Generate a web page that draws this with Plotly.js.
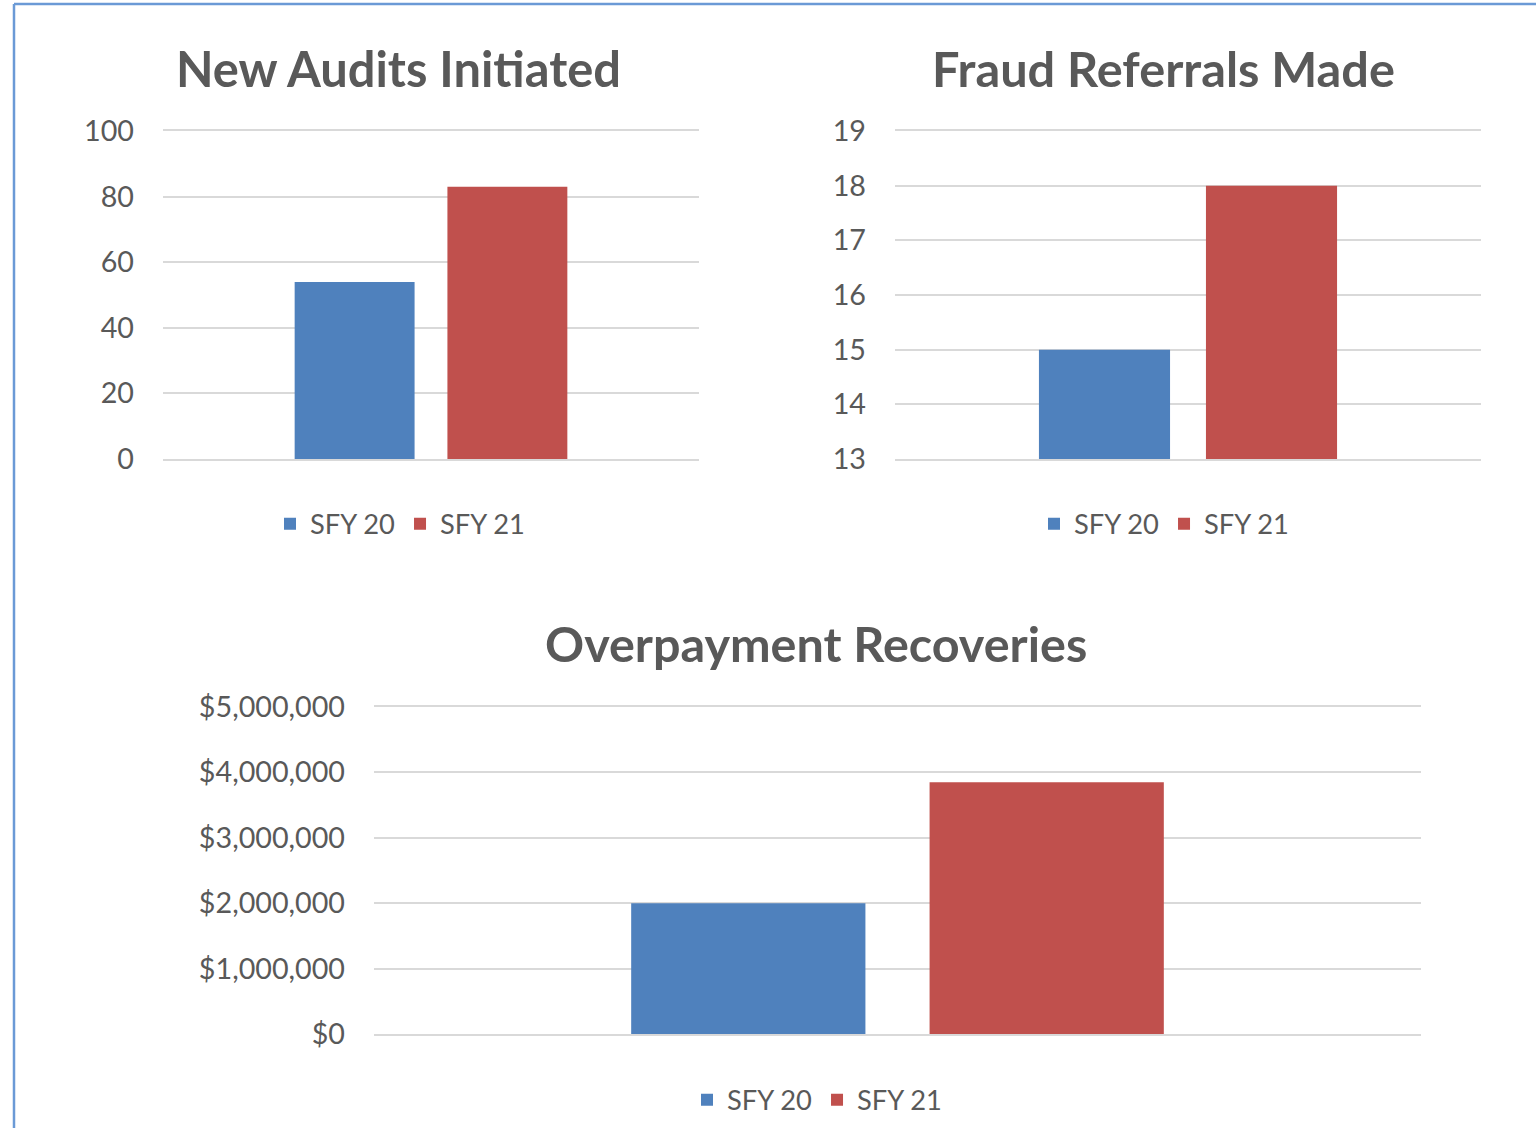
<!DOCTYPE html>
<html>
<head>
<meta charset="utf-8">
<script src="https://cdn.plot.ly/plotly-3.0.1.min.js"></script>
<style>
html,body{margin:0;padding:0;background:#fff;}
#chart{width:1536px;height:1128px;}
</style>
</head>
<body>
<div id="chart"></div>
<script>
// ---- data ----
const category = ['FY'];
const seriesNames = ['SFY 20', 'SFY 21'];
const seriesColors = ['#4F81BD', '#C0504D'];
const newAudits = [54, 83];
const fraudReferrals = [15, 18];
const overpaymentRecoveries = [2000000, 3850000];
const chartTitles = ['New Audits Initiated', 'Fraud Referrals Made', 'Overpayment Recoveries'];

const textColor = '#595959';
const fontFamily = 'Lato, Carlito, Calibri, sans-serif';
const gridColor = '#D9D9D9';

function barTraces(values, ax, legendId) {
  return values.map((v, i) => ({
    type: 'bar',
    x: category,
    y: [v],
    name: seriesNames[i],
    marker: {color: seriesColors[i]},
    xaxis: 'x' + ax,
    yaxis: 'y' + ax,
    legend: legendId,
    hoverinfo: 'skip'
  }));
}

const data = [].concat(
  barTraces(newAudits, '', 'legend'),
  barTraces(fraudReferrals, '2', 'legend2'),
  barTraces(overpaymentRecoveries, '3', 'legend3')
);

function xAxis(domain, anchor) {
  return {domain: domain, anchor: anchor, showticklabels: false, showgrid: false, zeroline: false,
    showline: true, mirror: true, linecolor: gridColor, linewidth: 2, layer: 'below traces',
    ticks: '', fixedrange: true};
}
function yAxis(domain, anchor, range, dtick, extra) {
  return Object.assign({
    domain: domain, anchor: anchor, range: range, dtick: dtick, tick0: range[0],
    showgrid: true, gridcolor: gridColor, gridwidth: 2,
    zeroline: false, showline: false, ticks: '',
    ticklabelstandoff: 28,
    tickfont: {family: fontFamily, size: 28.7, color: textColor},
    fixedrange: true
  }, extra || {});
}
function legend(xc, yc) {
  return {
    orientation: 'h', x: xc, y: yc, xanchor: 'center', yanchor: 'middle',
    font: {family: fontFamily, size: 27.3, color: textColor},
    bgcolor: 'rgba(0,0,0,0)', traceorder: 'normal'
  };
}
function titleAnn(text, xc, yc, size) {
  return {
    text: text, xref: 'paper', yref: 'paper', x: xc, y: yc,
    xanchor: 'center', yanchor: 'middle', showarrow: false,
    font: {family: fontFamily, size: size, color: textColor, weight: 'bold'}
  };
}

const W = 1536, H = 1128;
const px = v => v / W;
const py = v => 1 - v / H;

const layout = {
  width: W, height: H,
  margin: {l: 0, r: 0, t: 0, b: 0},
  paper_bgcolor: '#fff', plot_bgcolor: '#fff',
  barmode: 'group', bargap: 0.43, bargroupgap: 0.215,
  showlegend: true,
  xaxis: xAxis([px(163), px(699)], 'y'),
  yaxis: yAxis([py(459), py(131)], 'x', [0, 100], 20),
  xaxis2: xAxis([px(895), px(1481)], 'y2'),
  yaxis2: yAxis([py(459), py(131)], 'x2', [13, 19], 1),
  xaxis3: xAxis([px(374), px(1421)], 'y3'),
  yaxis3: yAxis([py(1034), py(707)], 'x3', [0, 5000000], 1000000, {tickformat: ',d', tickprefix: '$'}),
  legend: legend(px(400), py(524)),
  legend2: legend(px(1164), py(524)),
  legend3: legend(px(817), py(1100)),
  annotations: [
    titleAnn(chartTitles[0], px(398), py(68), 48.8),
    titleAnn(chartTitles[1], px(1163), py(68), 48.7),
    titleAnn(chartTitles[2], px(816), py(643), 48.5)
  ],
  shapes: [
    {type: 'line', xref: 'paper', yref: 'paper', x0: px(14), x1: 1, y0: py(4), y1: py(4), line: {color: '#6B9AD6', width: 2.5}},
    {type: 'line', xref: 'paper', yref: 'paper', x0: px(14), x1: px(14), y0: py(4), y1: 0, line: {color: '#6B9AD6', width: 2.5}}
  ]
};

Plotly.newPlot('chart', data, layout, {staticPlot: true, displayModeBar: false});
</script>
</body>
</html>
